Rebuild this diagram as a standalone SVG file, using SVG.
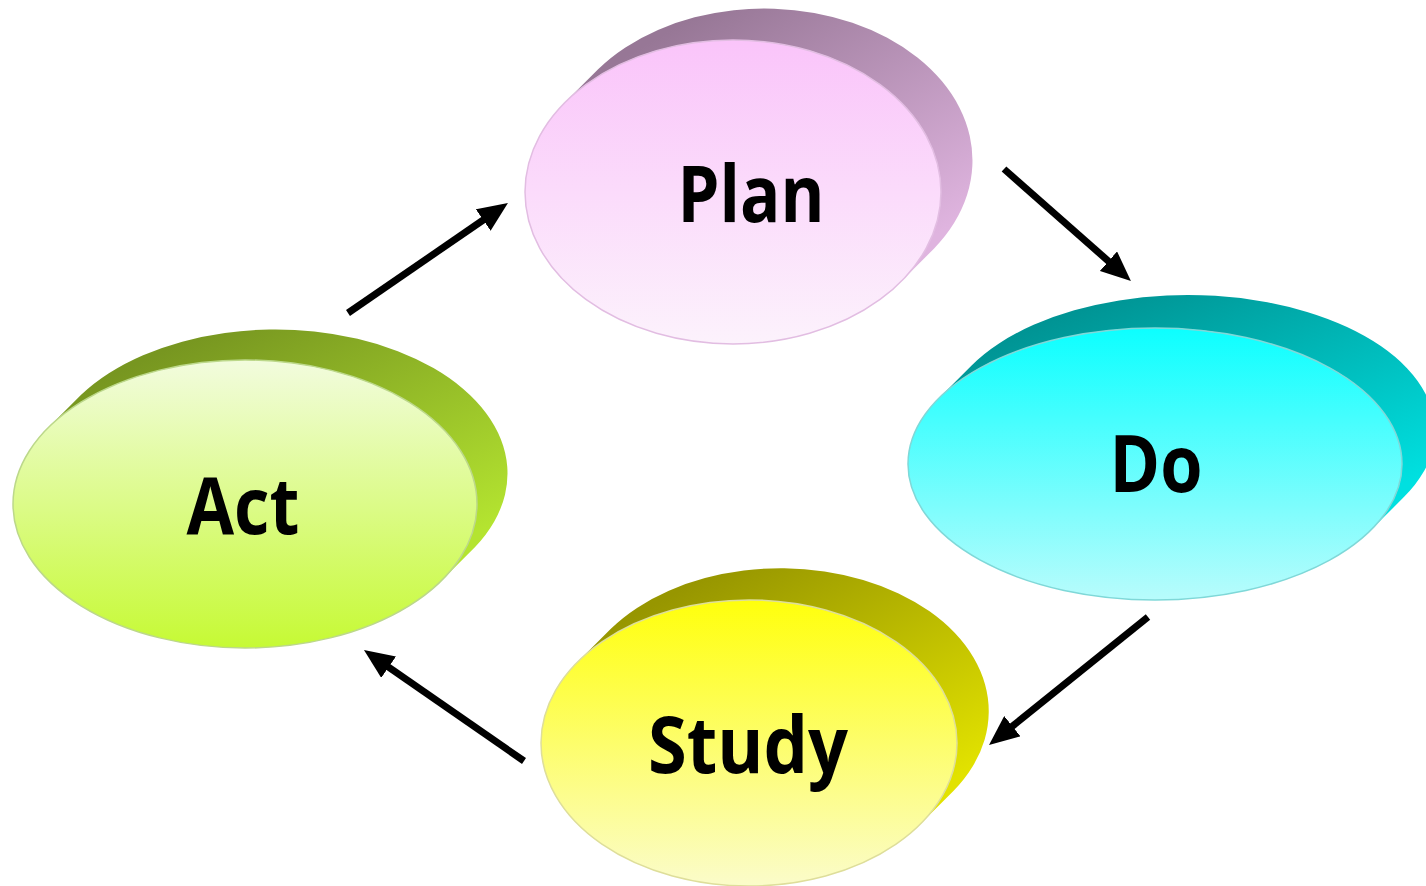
<svg xmlns="http://www.w3.org/2000/svg" width="1426" height="886" viewBox="0 0 1426 886">
  <style>
    .lbl { font-family: "Open Sans", "Lato", "Liberation Sans", sans-serif; font-weight: bold; font-size: 78px; fill: #000; text-anchor: middle; }
    .front { stroke-width: 1.5; }
    .conn { stroke: #000; stroke-width: 7; fill: none; marker-end: url(#ah); }
  </style>
  <defs>
    <marker id="ah" viewBox="0 0 30 26" refX="15" refY="13" markerWidth="30" markerHeight="26" markerUnits="userSpaceOnUse" orient="auto">
      <path d="M0,0 L30,13 L0,26 Z" fill="#000"/>
    </marker>
    <linearGradient id="planBack" x1="0.35" y1="0" x2="1" y2="0.75">
      <stop offset="0" stop-color="#977796"/>
      <stop offset="1" stop-color="#dfb4df"/>
    </linearGradient>
    <linearGradient id="planFront" x1="0" y1="0" x2="0" y2="1">
      <stop offset="0" stop-color="#fac4fa"/>
      <stop offset="1" stop-color="#fcf2fc"/>
    </linearGradient>
    <linearGradient id="doBack" x1="0.35" y1="0" x2="1" y2="0.75">
      <stop offset="0" stop-color="#009494"/>
      <stop offset="1" stop-color="#00e0e0"/>
    </linearGradient>
    <linearGradient id="doFront" x1="0" y1="0" x2="0" y2="1">
      <stop offset="0" stop-color="#0cffff"/>
      <stop offset="1" stop-color="#b8fcfc"/>
    </linearGradient>
    <linearGradient id="actBack" x1="0.35" y1="0" x2="1" y2="0.75">
      <stop offset="0" stop-color="#779620"/>
      <stop offset="1" stop-color="#b4e430"/>
    </linearGradient>
    <linearGradient id="actFront" x1="0" y1="0" x2="0" y2="1">
      <stop offset="0" stop-color="#f2fcde"/>
      <stop offset="1" stop-color="#c6fa34"/>
    </linearGradient>
    <linearGradient id="studyBack" x1="0.35" y1="0" x2="1" y2="0.75">
      <stop offset="0" stop-color="#979600"/>
      <stop offset="1" stop-color="#e2e200"/>
    </linearGradient>
    <linearGradient id="studyFront" x1="0" y1="0" x2="0" y2="1">
      <stop offset="0" stop-color="#ffff0c"/>
      <stop offset="1" stop-color="#fbfcca"/>
    </linearGradient>
  </defs>

  <rect width="1426" height="886" fill="#ffffff"/>

  <g id="plan" transform="translate(733,192)">
    <path d="M-167.9,-89.7 L-134.9,-122.7 A208,152 0 0 1 200.9,56.7 L167.9,89.7 A208,152 0 0 0 -167.9,-89.7 Z" fill="url(#planBack)"/>
    <ellipse class="front" cx="0" cy="0" rx="208" ry="152" fill="url(#planFront)" stroke="#e2bde2"/>
    <text class="lbl" x="18" y="30" textLength="147" lengthAdjust="spacingAndGlyphs">Plan</text>
  </g>

  <g id="do" transform="translate(1155,464)">
    <path d="M-216.4,-65.6 L-183.4,-98.6 A247,136 0 0 1 249.4,32.6 L216.4,65.6 A247,136 0 0 0 -216.4,-65.6 Z" fill="url(#doBack)"/>
    <ellipse class="front" cx="0" cy="0" rx="247" ry="136" fill="url(#doFront)" stroke="#7fd8d8"/>
    <text class="lbl" x="1" y="28" textLength="93" lengthAdjust="spacingAndGlyphs">Do</text>
  </g>

  <g id="act" transform="translate(245,504)">
    <path d="M-197.1,-75.9 L-164.1,-108.9 A232,144 0 0 1 230.1,42.9 L197.1,75.9 A232,144 0 0 0 -197.1,-75.9 Z" fill="url(#actBack)"/>
    <ellipse class="front" cx="0" cy="0" rx="232" ry="144" fill="url(#actFront)" stroke="#bcd88a"/>
    <text class="lbl" x="-2" y="30" textLength="113" lengthAdjust="spacingAndGlyphs">Act</text>
  </g>

  <g id="study" transform="translate(749,743)">
    <path d="M-171.4,-81 L-138.4,-114 A208,143 0 0 1 204.4,48 L171.4,81 A208,143 0 0 0 -171.4,-81 Z" fill="url(#studyBack)"/>
    <ellipse class="front" cx="0" cy="0" rx="208" ry="143" fill="url(#studyFront)" stroke="#dede9a"/>
    <text class="lbl" x="-1" y="30" textLength="200" lengthAdjust="spacingAndGlyphs">Study</text>
  </g>

  <g id="connectors">
    <line class="conn" x1="348" y1="313" x2="495.6" y2="211.5"/>
    <line class="conn" x1="1004" y1="169" x2="1119.7" y2="271.1"/>
    <line class="conn" x1="1148" y1="617" x2="1000.7" y2="735.6"/>
    <line class="conn" x1="524" y1="761" x2="376.3" y2="658.6"/>
  </g>
</svg>
